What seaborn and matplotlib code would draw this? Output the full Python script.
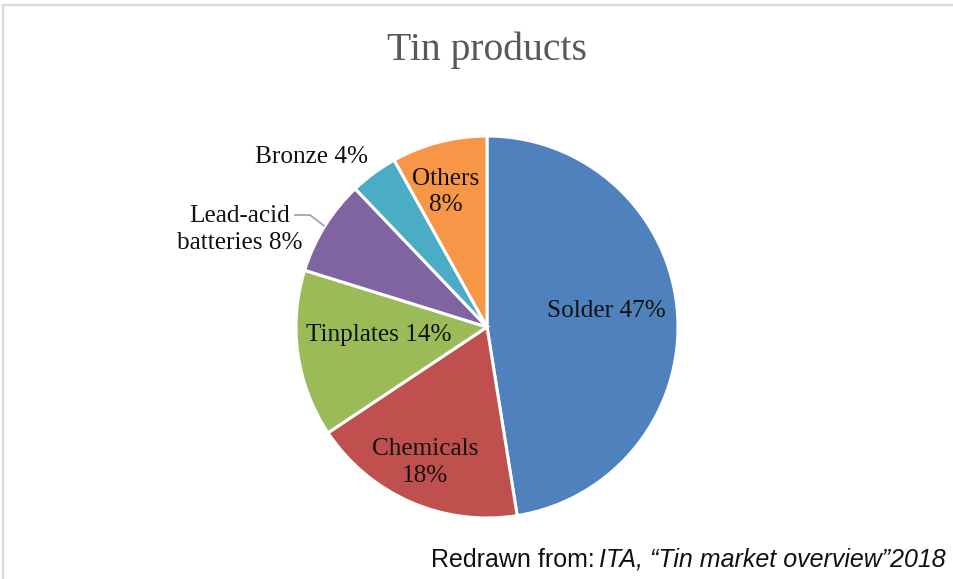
import numpy as np
import matplotlib
matplotlib.use("Agg")
import matplotlib.pyplot as plt
import seaborn as sns

# Tin end-use shares (percent)
categories = ["Solder", "Chemicals", "Tinplates", "Lead-acid\nbatteries", "Bronze", "Others"]
shares = [47, 18, 14, 8, 4, 8]
label_texts = ["Solder 47%", "Chemicals\n18%", "Tinplates 14%",
               "Lead-acid\nbatteries 8%", "Bronze 4%", "Others\n8%"]
colors = ["#4f81bd", "#c0504d", "#9bbb59", "#8064a2", "#4bacc6", "#f79646"]

sns.set_theme(style="white")
serif = ["Liberation Serif", "DejaVu Serif"]
sans = ["Liberation Sans", "DejaVu Sans"]

W, H = 954, 579
fig = plt.figure(figsize=(W / 100, H / 100), dpi=100)
fig.patch.set_facecolor("white")

# axes covering the figure, scaled so the pie radius is 191 px
cx, cy, R = 487, 327, 191
ax = fig.add_axes([0, 0, 1, 1])
wedges, _ = ax.pie(shares, colors=colors, startangle=90, counterclock=False,
                   radius=1.0, center=(0, 0),
                   wedgeprops=dict(edgecolor="white", linewidth=2.2))
ax.set_xlim(-cx / R, (W - cx) / R)
ax.set_ylim(-(H - cy) / R, cy / R)
ax.set_aspect("auto")
ax.axis("off")


def px(x, y):
    """Pixel position (from top-left) to data coordinates."""
    return (x - cx) / R, (cy - y) / R


# label placement: (radius fraction, angle shift in degrees) relative to wedge middle
placement = [(0.63, 3.0), (0.78, -1.0), (0.57, -4.0), (1.39, 10.3), (1.28, 9.5), (0.74, 2.3)]
for w, txt, (rf, dshift) in zip(wedges, label_texts, placement):
    mid = np.deg2rad((w.theta1 + w.theta2) / 2 + dshift)
    x, y = rf * np.cos(mid), rf * np.sin(mid)
    ax.text(x, y, txt, ha="center", va="center", fontsize=18.2, family=serif,
            color="#111111", linespacing=1.25)

# leader line for the lead-acid label
lead = wedges[3]
lm = np.deg2rad((lead.theta1 + lead.theta2) / 2)
ex, ey = 1.0 * np.cos(lm), 1.0 * np.sin(lm)
p0, p1 = px(294, 215), px(310, 215)
ax.plot([p0[0], p1[0], ex], [p0[1], p1[1], ey],
        color="#a6a6a6", lw=1.3, solid_capstyle="butt")

# title
fig.text(487 / W, 1 - 50 / H, "Tin products", ha="center", va="center",
         fontsize=28.5, family=serif, color="#595959")

# source note: roman part followed by italic part, right aligned
fig.canvas.draw()
renderer = fig.canvas.get_renderer()
t_it = fig.text(946 / W, 1 - 567 / H, "ITA, \u201cTin market overview\u201d2018",
                ha="right", va="baseline", fontsize=18, family=sans,
                style="italic", color="#111111")
bb = t_it.get_window_extent(renderer)
fig.text((bb.x0 - 5) / W, 1 - 567 / H, "Redrawn from:", ha="right", va="baseline",
         fontsize=18, family=sans, color="#111111")

# chart-area border (top and left edges)
border = "#d9d9d9"
fig.add_artist(plt.Line2D([3 / W, 1], [1 - 5 / H, 1 - 5 / H], color=border, lw=1.6,
                          transform=fig.transFigure))
fig.add_artist(plt.Line2D([3 / W, 3 / W], [0, 1 - 5 / H], color=border, lw=1.6,
                          transform=fig.transFigure))

fig.savefig("out.png", dpi=100, facecolor="white")
